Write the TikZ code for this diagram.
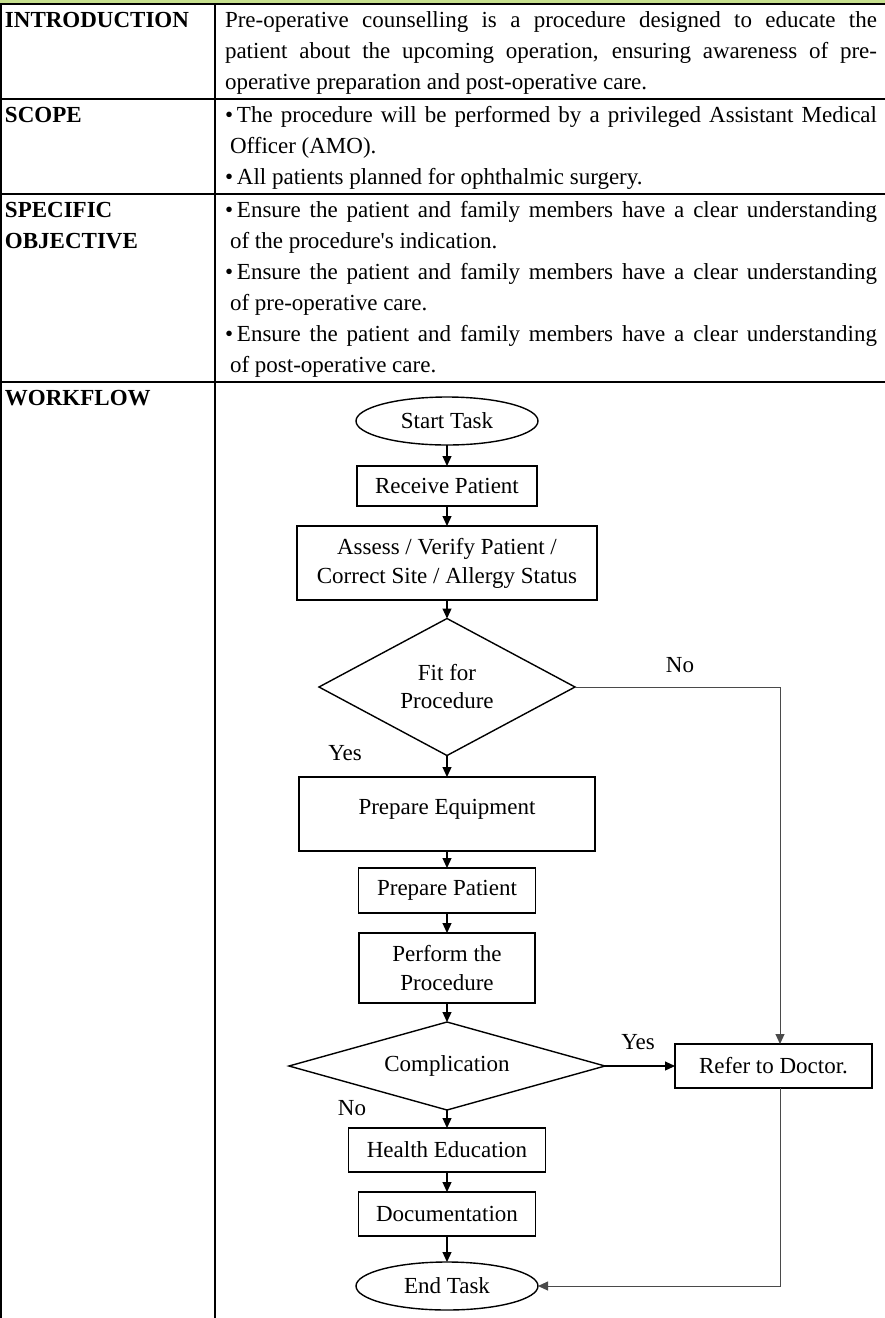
\documentclass[tikz,border=0pt]{standalone}
\usepackage{fontspec}
\setmainfont{Liberation Serif}
\usetikzlibrary{shapes.geometric,arrows.meta}
\definecolor{bandgreen}{HTML}{C6E08E}
\definecolor{linkgray}{HTML}{4A4A4A}
\newcommand\itemdot{\makebox[12pt][l]{\textbullet}}
\newcommand\fullline[1]{\makebox[\linewidth][s]{#1}}
\begin{document}
\begin{tikzpicture}[x=1pt,y=-1pt,
  every node/.style={inner sep=0pt, outer sep=0pt},
  body/.style={font=\fontsize{23}{31}\selectfont, anchor=base west},
  headtxt/.style={font=\fontsize{23}{31}\selectfont\bfseries, anchor=base west},
  rule/.style={line width=1.2pt},
  stepbox/.style={draw, line width=1.4pt, font=\fontsize{23}{29}\selectfont, align=center},
  terminal/.style={draw, ellipse, line width=1.4pt, font=\fontsize{23}{29}\selectfont,
    minimum width=182pt, minimum height=48pt},
  decision/.style={draw, diamond, line width=1.4pt, font=\fontsize{23}{28}\selectfont, align=center},
  tip/.style={-{Triangle[length=10pt,width=9pt]}},
  flow/.style={line width=1.2pt, tip},
  link/.style={line width=1pt, draw=linkgray, tip},
  branch/.style={font=\fontsize{23}{28}\selectfont}
]
\useasboundingbox (0,0) rectangle (885,1318);

% table frame
\fill[bandgreen] (0,0) rectangle (885,3.5);
\draw[rule] (0,4) -- (885,4);
\draw[rule] (0,99) -- (885,99);
\draw[rule] (0,194) -- (885,194);
\draw[rule] (0,382) -- (885,382);
\draw[rule] (1,4) -- (1,1318);
\draw[rule] (215,4) -- (215,1318);

% row headings
\node[headtxt] (hintro) at (5,27) {INTRODUCTION};
\node[headtxt] (hscope) at (5,122) {SCOPE};
\node[headtxt] (hspec) at (5,217) {\parbox[t]{200pt}{SPECIFIC\\OBJECTIVE}};
\node[headtxt] (hwork) at (5,405) {WORKFLOW};

% row texts
\node[body] (tintro) at (225,27) {\parbox[t]{652pt}{\fontsize{23}{31}\selectfont
  \fullline{Pre-operative counselling is a procedure designed to educate the}\\
  \fullline{patient about the upcoming operation, ensuring awareness of pre-}\\
  operative preparation and post-operative care.}};
\node[body] (tscope) at (225,122) {\parbox[t]{652pt}{\fontsize{23}{31}\selectfont
  \itemdot\makebox[640pt][s]{The procedure will be performed by a privileged Assistant Medical}\\
  \hspace*{5pt}Officer (AMO).\\
  \itemdot All patients planned for ophthalmic surgery.}};
\node[body] (tspec) at (225,217) {\parbox[t]{652pt}{\fontsize{23}{31}\selectfont
  \itemdot\makebox[640pt][s]{Ensure the patient and family members have a clear understanding}\\
  \hspace*{5pt}of the procedure\textquotesingle s indication.\\
  \itemdot\makebox[640pt][s]{Ensure the patient and family members have a clear understanding}\\
  \hspace*{5pt}of pre-operative care.\\
  \itemdot\makebox[640pt][s]{Ensure the patient and family members have a clear understanding}\\
  \hspace*{5pt}of post-operative care.}};

% workflow
\node[terminal] (start) at (447,421) {Start Task};
\node[stepbox, minimum width=180pt, minimum height=40pt] (receive) at (447,486) {Receive Patient};
\node[stepbox, minimum width=300pt, minimum height=74pt] (assess) at (447,563)
  {Assess / Verify Patient /\\Correct Site / Allergy Status};
\node[decision, aspect=2, minimum width=256pt, minimum height=137pt] (fit) at (447,687)
  {Fit for\\Procedure};
\node[stepbox, minimum width=296pt, minimum height=74pt, text height=15pt, text depth=15pt]
  (equip) at (447,814) {Prepare Equipment};
\node[stepbox, minimum width=177pt, minimum height=45pt] (patient) at (447,890.5) {Prepare Patient};
\node[stepbox, minimum width=176pt, minimum height=70pt] (perform) at (447,968) {Perform the\\Procedure};
\node[decision, aspect=3, minimum width=316pt, minimum height=88pt] (comp) at (447,1066) {Complication};
\node[stepbox, minimum width=197pt, minimum height=44pt] (health) at (447,1150) {Health Education};
\node[stepbox, minimum width=177pt, minimum height=44pt] (doc) at (447,1214) {Documentation};
\node[terminal] (stop) at (447,1286) {End Task};
\node[stepbox, minimum width=197pt, minimum height=44pt] (refer) at (773.5,1066) {Refer to Doctor.};

% branch labels
\node[branch] (nofit) at (680,665) {No};
\node[branch] (yesfit) at (345,753) {Yes};
\node[branch] (yescomp) at (638,1042) {Yes};
\node[branch] (nocomp) at (352,1108) {No};

% connectors
\draw[flow] (start) -- (receive);
\draw[flow] (receive) -- (assess);
\draw[flow] (assess) -- (fit);
\draw[flow] (fit) -- (equip);
\draw[flow] (equip) -- (patient);
\draw[flow] (patient) -- (perform);
\draw[flow] (perform) -- (comp);
\draw[flow] (comp) -- (health);
\draw[flow] (health) -- (doc);
\draw[flow] (doc) -- (stop);
\draw[flow] (comp.east) -- (refer.west);
\draw[link] (fit.east) -| ([xshift=6.5pt]refer.north);
\draw[link] ([xshift=6.5pt]refer.south) |- (stop.east);
\end{tikzpicture}
\end{document}
